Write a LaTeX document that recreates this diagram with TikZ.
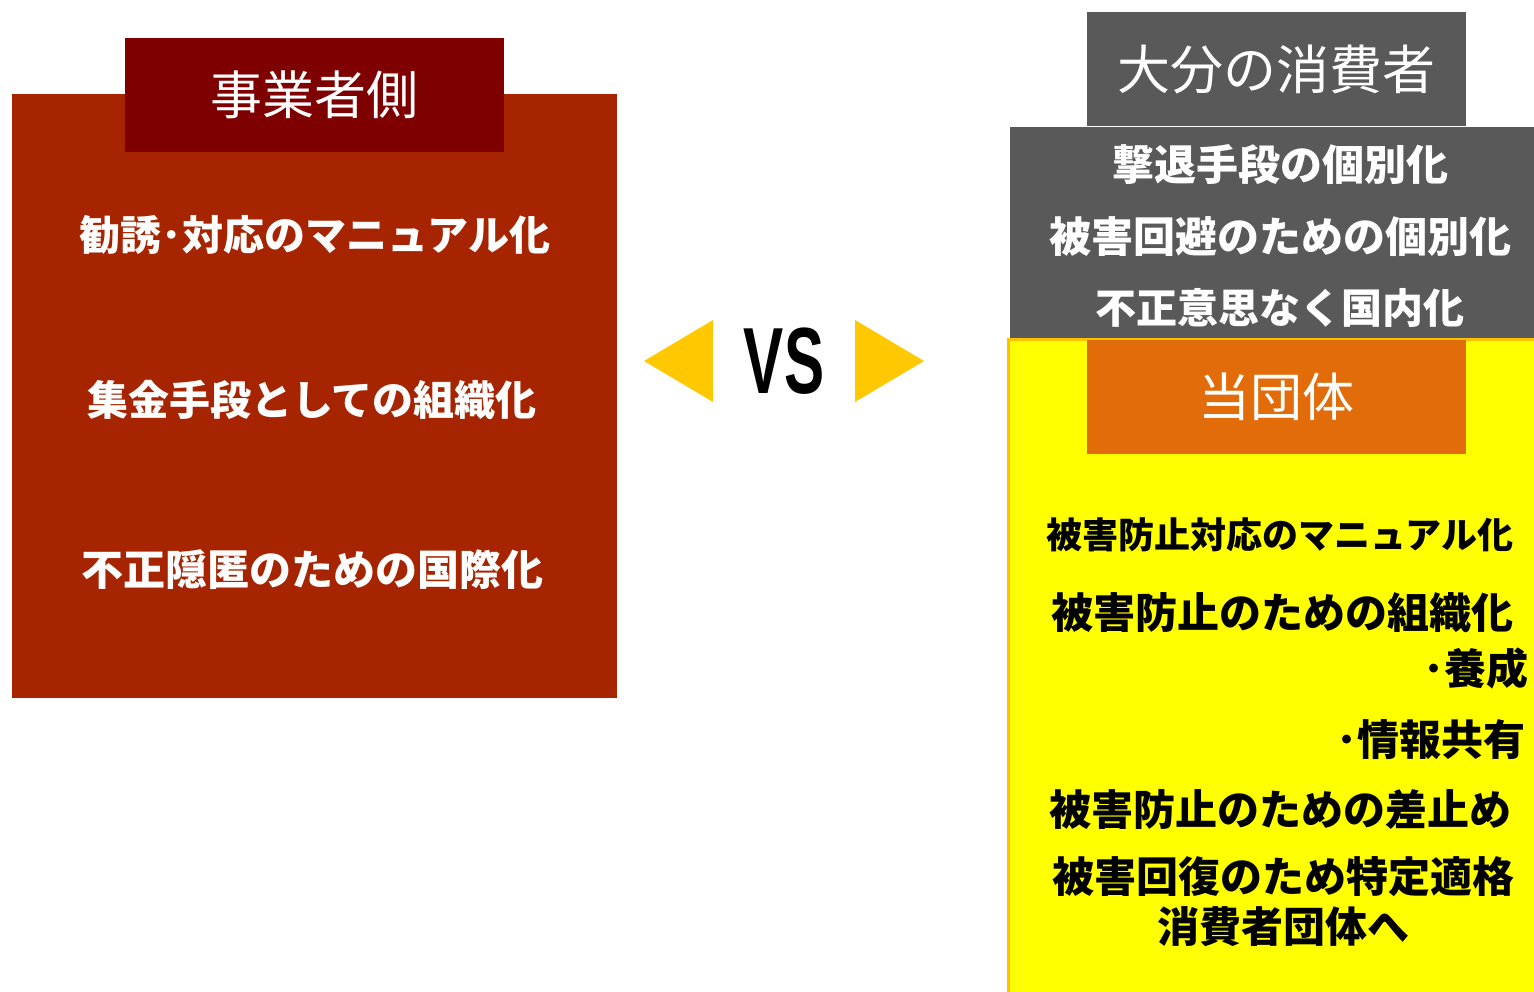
\documentclass[tikz,border=0pt]{standalone}
\usepackage{fontspec}
\newfontfamily\jp{Noto Sans CJK JP}
\setsansfont{Liberation Sans}
\usetikzlibrary{positioning}

\definecolor{bizred}{HTML}{A62400}
\definecolor{bizdark}{HTML}{7F0000}
\definecolor{consgray}{HTML}{595959}
\definecolor{orghead}{HTML}{E36C0A}
\definecolor{orgfill}{HTML}{FFFF00}
\definecolor{orgline}{HTML}{FFC000}
\definecolor{vsgold}{HTML}{FFC800}

\tikzset{
	panel/.style={fill=#1, inner sep=0},
	headbox/.style={fill=#1, text=white, inner sep=0, minimum width=379, minimum height=114,
		font=\jp\fontsize{52}{60}\selectfont},
	whiteitem/.style={text=white, inner sep=0, font=\jp\bfseries\fontsize{41}{50}\selectfont},
	blackitem/.style={text=black, inner sep=0, align=center, font=\jp\bfseries\fontsize{42}{50}\selectfont}
}

\begin{document}
\begin{tikzpicture}[x=1pt, y=-1pt]
			\useasboundingbox (0, 0) rectangle (1534, 992);
			\clip (0, 0) rectangle (1534, 992);
			% left side
			\node [panel=bizred, minimum width=605, minimum height=604] (bizbox) at (314.5, 396) {};
			\node [headbox=bizdark] (bizhead) at (314, 95) {事業者側};
			\node [whiteitem] (bizone) at (315, 235) {勧誘･対応のマニュアル化};
			\node [whiteitem] (biztwo) at (312, 400) {集金手段としての組織化};
			\node [whiteitem, font=\jp\bfseries\fontsize{42}{50}\selectfont] (bizthree) at (312, 570) {不正隠匿のための国際化};
			% vs
			\node [inner sep=0] (vs) at (784, 361) {\sffamily\bfseries\fontsize{94}{94}\selectfont\scalebox{0.64}[1]{VS}};
			\fill [vsgold] (644, 361) -- (713, 320) -- (713, 402) -- cycle;
			\fill [vsgold] (924, 361) -- (855, 320) -- (855, 402) -- cycle;
			% right side
			\node [panel=consgray, minimum width=379, minimum height=114] (conshead) at (1276.5, 69) {};
			\node [text=white, font=\jp\fontsize{53}{60}\selectfont] at (conshead) {大分の消費者};
			\node [panel=consgray, minimum width=550, minimum height=213] (consbox) at (1285, 233.5) {};
			\node [whiteitem, font=\jp\bfseries\fontsize{42}{50}\selectfont] (consone) at (1280, 165) {撃退手段の個別化};
			\node [whiteitem, font=\jp\bfseries\fontsize{42}{50}\selectfont] (constwo) at (1280, 237) {被害回避のための個別化};
			\node [whiteitem, font=\jp\bfseries\fontsize{41}{50}\selectfont] (consthree) at (1280, 308) {不正意思なく国内化};
			\node [panel=orgfill, draw=orgline, line width=3, minimum width=552, minimum height=671] (orgbox) at (1284, 674.5) {};
			\node [headbox=orghead] (orghd) at (1276.5, 396.5) {当団体};
			\node [blackitem, font=\jp\bfseries\fontsize{36}{44}\selectfont] (orgone) at (1280, 535) {被害防止対応のマニュアル化};
			\node [blackitem] (orgtwo) at (1282, 613) {被害防止のための組織化};
			\node [blackitem, anchor=east] (orgthree) at (1529, 668) {･養成};
			\node [blackitem, anchor=east] (orgfour) at (1526, 740) {･情報共有};
			\node [blackitem] (orgfive) at (1280, 810) {被害防止のための差止め};
			\node [blackitem] (orgsix) at (1283, 902) {被害回復のため特定適格\\消費者団体へ};
		\end{tikzpicture}
\end{document}
